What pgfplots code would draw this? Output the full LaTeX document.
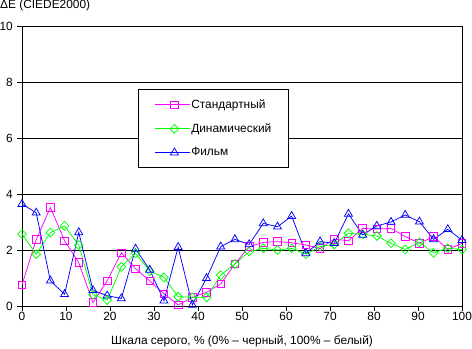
\documentclass[border=0pt]{standalone}
\usepackage{pgfplots}
\pgfplotsset{compat=1.18}
\usepackage{fontspec}
\setmainfont{Liberation Sans}
\begin{document}
\fontsize{11.9bp}{14bp}\selectfont
\begin{tikzpicture}
\useasboundingbox (-22bp,-43bp) rectangle (450bp,306bp);
\begin{axis}[
  at={(0,0)}, anchor=south west,
  scale only axis, width=440bp, height=280bp,
  xmin=0, xmax=100, ymin=0, ymax=10,
  xtick={0,10,...,100}, ytick={0,2,...,10},
  tick align=outside, tick pos=left,
  major tick length=5bp,
  ymajorgrids, grid style={black, line width=0.75bp},
  axis line style={black, line width=0.75bp},
  every tick/.style={black, line width=0.75bp},
  /pgf/number format/assume math mode=true,
  ticklabel style={font=\fontsize{11.9bp}{14bp}\selectfont},
  yticklabel style={anchor=east, inner sep=0pt, xshift=-4bp},
  xticklabel style={anchor=north, inner sep=0pt, yshift=-1bp},
  xlabel={Шкала серого, \% (0\% – черный, 100\% – белый)},
  xlabel style={at={(axis description cs:0.5,0)}, anchor=base, inner sep=0pt, yshift=-38bp, font=\fontsize{11.9bp}{14bp}\selectfont},
  legend style={at={(axis description cs:0.264,0.775)}, anchor=north west,
    draw=black, line width=0.75bp, fill=white, font=\fontsize{11.9bp}{14bp}\selectfont,
    inner xsep=16bp, inner ysep=9bp, row sep=11.5bp,
    nodes={inner sep=1bp}},
  legend cell align=left,
  legend image code/.code={\path (-4bp,0bp) -- (31bp,0bp);\draw[mark repeat=2,mark phase=2] plot coordinates {(0bp,0bp) (15.5bp,0bp) (31bp,0bp)};},
  every axis plot/.append style={line width=0.75bp},
]
\addplot[color={rgb,255:red,255;green,0;blue,255}, mark=square, mark size=3.8bp, mark options={solid}] coordinates {
(0,0.76) (3.226,2.37) (6.452,3.52) (9.677,2.33) (12.903,1.55) (16.129,0.12) (19.355,0.9) (22.581,1.9)
(25.806,1.33) (29.032,0.9) (32.258,0.44) (35.484,0.04) (38.710,0.31) (41.935,0.49) (45.161,0.79) (48.387,1.5)
(51.613,2.12) (54.839,2.27) (58.065,2.3) (61.290,2.26) (64.516,2.18) (67.742,2.05) (70.968,2.39) (74.194,2.33)
(77.419,2.77) (80.645,2.75) (83.871,2.77) (87.097,2.48) (90.323,2.24) (93.548,2.48) (96.774,2.02) (100,2.24)};
\addlegendentry{Стандартный}
\addplot[color={rgb,255:red,0;green,255;blue,0}, mark=square, mark size=3.1bp, mark options={solid, rotate=45}] coordinates {
(0,2.57) (3.226,1.85) (6.452,2.62) (9.677,2.86) (12.903,2.18) (16.129,0.4) (19.355,0.21) (22.581,1.4)
(25.806,1.88) (29.032,1.25) (32.258,1.02) (35.484,0.33) (38.710,0.31) (41.935,0.31) (45.161,1.1) (48.387,1.5)
(51.613,1.94) (54.839,2.06) (58.065,2.0) (61.290,2.06) (64.516,1.85) (67.742,2.12) (70.968,2.2) (74.194,2.6)
(77.419,2.56) (80.645,2.5) (83.871,2.24) (87.097,2.02) (90.323,2.27) (93.548,1.9) (96.774,2.06) (100,2.02)};
\addlegendentry{Динамический}
\addplot[color={rgb,255:red,0;green,0;blue,255}, mark=triangle, mark size=4.6bp, mark options={solid}] coordinates {
(0,3.64) (3.226,3.33) (6.452,0.9) (9.677,0.42) (12.903,2.63) (16.129,0.56) (19.355,0.37) (22.581,0.27)
(25.806,2.04) (29.032,1.29) (32.258,0.19) (35.484,2.1) (38.710,0.04) (41.935,0.99) (45.161,2.12) (48.387,2.38)
(51.613,2.2) (54.839,2.95) (58.065,2.83) (61.290,3.21) (64.516,1.88) (67.742,2.3) (70.968,2.24) (74.194,3.29)
(77.419,2.54) (80.645,2.86) (83.871,3.0) (87.097,3.25) (90.323,3.01) (93.548,2.38) (96.774,2.74) (100,2.35)};
\addlegendentry{Фильм}
\draw[black, line width=0.75bp] (rel axis cs:1,0) -- (rel axis cs:1,1);
\end{axis}
\node[anchor=base west, inner sep=0pt, font=\fontsize{11.9bp}{14bp}\selectfont] at (-22bp,297bp) {ΔE (CIEDE2000)};
\end{tikzpicture}
\end{document}
